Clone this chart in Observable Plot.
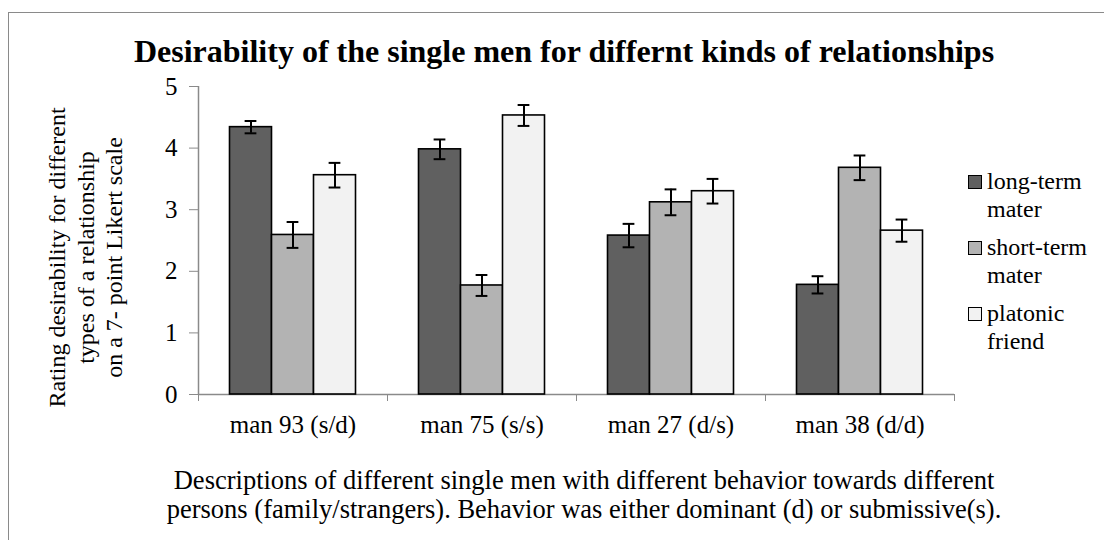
<!DOCTYPE html>
<html>
<head>
<meta charset="utf-8">
<script src="https://cdn.jsdelivr.net/npm/d3@7"></script>
<script src="https://cdn.jsdelivr.net/npm/@observablehq/plot@0.6"></script>
<style>
  html, body { margin: 0; padding: 0; background: #fff; }
  #wrap { position: relative; width: 1104px; height: 540px; overflow: hidden; font-family: "Liberation Serif", "DejaVu Serif", serif; color: #000; }
  #border { position: absolute; left: 8px; top: 12px; width: 1200px; height: 600px; border: 1.5px solid #8a8a8a; box-sizing: border-box; }
  #title { position: absolute; left: 0; width: 1128px; top: 35px; text-align: center; font-weight: bold; font-size: 32px; line-height: 32px; white-space: nowrap; }
  #chart { position: absolute; left: 0; top: 0; }
  #legend { position: absolute; left: 968px; top: 168px; font-size: 24px; line-height: 27.5px; }
  .item { position: relative; padding-left: 19px; margin-bottom: 11px; }
  .sw { position: absolute; left: 0; top: 7px; width: 12px; height: 12px; border: 1px solid #000; }
  #caption { position: absolute; left: 0; width: 1168px; top: 466px; text-align: center; font-size: 26.5px; line-height: 29px; white-space: nowrap; }
  svg [aria-label="y-axis tick"], svg [aria-label="x-axis tick"] { stroke: #8a8a8a; }
  svg .tick line { stroke: #8a8a8a; }
  svg .domain { display: none; }
</style>
</head>
<body>
<div id="wrap">
  <div id="border"></div>
  <div id="title"></div>
  <div id="chart"></div>
  <div id="legend"></div>
  <div id="caption"></div>
</div>
<script>
// ---- data ----
const men = ["man 93 (s/d)", "man 75 (s/s)", "man 27 (d/s)", "man 38 (d/d)"];
const series = ["long-term mater", "short-term mater", "platonic friend"];
const legendLines = [["long-term", "mater"], ["short-term", "mater"], ["platonic", "friend"]];
const longTerm = [4.34, 3.98, 2.58, 1.78];
const shortTerm = [2.59, 1.77, 3.12, 3.68];
const platonic = [3.56, 4.53, 3.30, 2.66];
const longTermErr = [0.10, 0.16, 0.19, 0.14];
const shortTermErr = [0.21, 0.17, 0.21, 0.20];
const platonicErr = [0.20, 0.17, 0.20, 0.18];
const yTicks = [0, 1, 2, 3, 4, 5];
const colors = ["#606060", "#b3b3b3", "#f2f2f2"];
const titleText = "Desirability of the single men for differnt kinds of relationships";
const yTitle = "Rating desirability for different\ntypes of a relationship\non a 7- point Likert scale";
const captionLines = ["Descriptions of different single men with different behavior towards different",
  "persons (family/strangers). Behavior was either dominant (d) or submissive(s)."];

// ---- build rows ----
const values = [longTerm, shortTerm, platonic];
const errs = [longTermErr, shortTermErr, platonicErr];
const inner = d3.scaleBand().domain(series).range([0, 1]).paddingInner(0).paddingOuter(0.75);
const bw = inner.bandwidth();
const cap = bw * 0.14;
const rows = [];
men.forEach((m, i) => {
  series.forEach((s, j) => {
    const x1 = i + inner(s);
    rows.push({man: m, series: s, x1, x2: x1 + bw, xc: x1 + bw / 2,
      value: values[j][i], lo: values[j][i] - errs[j][i], hi: values[j][i] + errs[j][i]});
  });
});

const gray = "#8a8a8a";
const plot = Plot.plot({
  width: 1104,
  height: 450,
  marginLeft: 198,
  marginRight: 150,
  marginTop: 86,
  marginBottom: 56,
  style: {fontFamily: "Liberation Serif, serif", fontSize: "25px", background: "transparent", overflow: "visible"},
  x: {domain: [0, men.length], ticks: d3.range(men.length + 1), tickFormat: () => "", tickSize: 7, label: null},
  y: {domain: [0, 5], ticks: yTicks, tickFormat: d => String(d), tickSize: 9, tickPadding: 12, label: null},
  color: {domain: series, range: colors},
  marks: [
    Plot.ruleY([0], {stroke: gray, strokeWidth: 1.5}),
    Plot.ruleX([0], {stroke: gray, strokeWidth: 1.5}),
    Plot.rect(rows, {x1: "x1", x2: "x2", y1: () => 0, y2: "value", fill: "series", stroke: "#000", strokeWidth: 1.6}),
    Plot.ruleX(rows, {x: "xc", y1: "lo", y2: "hi", stroke: "#000", strokeWidth: 2}),
    Plot.ruleY(rows, {y: "hi", x1: d => d.xc - cap, x2: d => d.xc + cap, stroke: "#000", strokeWidth: 2}),
    Plot.ruleY(rows, {y: "lo", x1: d => d.xc - cap, x2: d => d.xc + cap, stroke: "#000", strokeWidth: 2}),
    Plot.text(men, {x: (d, i) => i + 0.5, text: d => d, frameAnchor: "bottom", dy: 38, fontSize: 25}),
    Plot.text([yTitle], {text: d => d, frameAnchor: "left", textAnchor: "middle", rotate: -90, dx: -114, dy: 17, fontSize: 24, lineHeight: 1.19})
  ]
});
document.getElementById("chart").appendChild(plot);

document.getElementById("title").textContent = titleText;
const legend = document.getElementById("legend");
series.forEach((s, j) => {
  const it = document.createElement("div");
  it.className = "item";
  const sw = document.createElement("div");
  sw.className = "sw";
  sw.style.background = colors[j];
  it.appendChild(sw);
  legendLines[j].forEach(t => { const l = document.createElement("div"); l.textContent = t; it.appendChild(l); });
  legend.appendChild(it);
});
const cap_ = document.getElementById("caption");
captionLines.forEach(t => { const l = document.createElement("div"); l.textContent = t; cap_.appendChild(l); });
</script>
</body>
</html>
